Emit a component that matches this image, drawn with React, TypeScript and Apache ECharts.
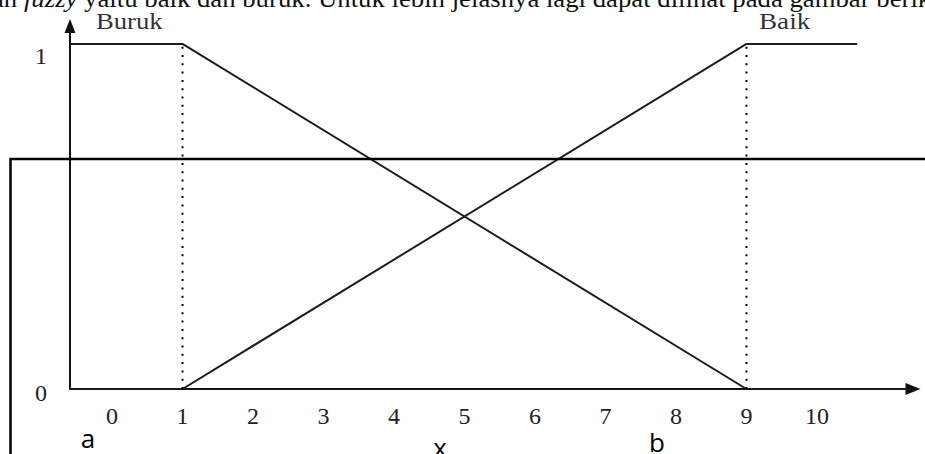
import React, { useEffect, useRef } from "react";
import * as echarts from "echarts";

// x-axis tick labels and y-axis tick labels
const xTickValues = [0, 1, 2, 3, 4, 5, 6, 7, 8, 9, 10];
const yTickValues = [0, 1];
// membership functions
const burukPoints = [[-0.596, 1], [1, 1], [9, 0], [11.3, 0]];
const baikPoints = [[-0.596, 0], [1, 0], [9, 1], [10.57, 1]];
// dotted guides at the bounds
const guideLeft = [[1, 0], [1, 1]];
const guideRight = [[9, 0], [9, 1]];
const setLabels = ["Buruk", "Baik"];
const boundLabels = ["a", "x", "b"];
const captionText =
  "an {i|fuzzy} yaitu baik dan buruk. Untuk lebih jelasnya lagi dapat dilihat pada gambar berikut ini:";

const SERIF = "'Liberation Serif', 'Times New Roman', serif";
const SANS = "'Open Sans', 'Liberation Sans', sans-serif";

export default function App() {
  const ref = useRef<HTMLDivElement>(null);
  useEffect(() => {
    if (!ref.current) return;
    const chart = echarts.init(ref.current, undefined, { renderer: "svg" });
    const lineColor = "#1c1c1c";
    const option: any = {
      animation: false,
      backgroundColor: "#ffffff",
      grid: { left: 70, right: 12, top: 26, bottom: 65 },
      xAxis: {
        type: "value",
        min: -0.596,
        max: 11.362,
        axisLine: {
          show: true,
          onZero: false,
          symbol: ["none", "triangle"],
          symbolSize: [12, 15],
          lineStyle: { color: "#111", width: 2 },
        },
        axisTick: { show: false },
        splitLine: { show: false },
        axisLabel: {
          customValues: xTickValues,
          fontFamily: SERIF,
          fontSize: 24,
          color: "#222",
          margin: 15,
        },
      },
      yAxis: {
        type: "value",
        min: 0,
        max: 1.052,
        axisLine: {
          show: true,
          onZero: false,
          symbol: ["none", "triangle"],
          symbolSize: [11, 14],
          lineStyle: { color: "#111", width: 2 },
        },
        axisTick: { show: false },
        splitLine: { show: false },
        axisLabel: {
          customValues: yTickValues,
          margin: 23,
          formatter: (v: number) => (v === 1 ? "{a|1}" : "{b|0}"),
          rich: {
            a: { fontFamily: SERIF, fontSize: 24, color: "#222", padding: [25, 0, 0, 0] },
            b: { fontFamily: SERIF, fontSize: 24, color: "#222", padding: [7, 0, 0, 0] },
          },
        },
      },
      series: [
        {
          name: setLabels[0],
          type: "line",
          data: burukPoints,
          symbol: "none",
          silent: true,
          lineStyle: { color: lineColor, width: 2 },
        },
        {
          name: setLabels[1],
          type: "line",
          data: baikPoints,
          symbol: "none",
          silent: true,
          lineStyle: { color: lineColor, width: 2 },
        },
        {
          type: "line",
          data: guideLeft,
          symbol: "none",
          silent: true,
          lineStyle: { color: "#000", width: 2, type: [2, 6.3] },
        },
        {
          type: "line",
          data: guideRight,
          symbol: "none",
          silent: true,
          lineStyle: { color: "#000", width: 2, type: [2, 6.3] },
        },
      ],
      graphic: [
        {
          type: "text",
          x: -8,
          y: -1.5,
          scaleX: 1.07,
          style: {
            text: captionText,
            fontFamily: SERIF,
            fontSize: 25,
            fill: "#111",
            align: "left",
            verticalAlign: "middle",
            rich: {
              i: { fontFamily: SERIF, fontSize: 25, fontStyle: "italic", fill: "#111" },
            },
          },
        },
        {
          type: "text",
          x: 96,
          y: 21,
          scaleX: 1.16,
          style: {
            text: setLabels[0],
            fontFamily: SERIF,
            fontSize: 23,
            fill: "#333",
            align: "left",
            verticalAlign: "middle",
          },
        },
        {
          type: "text",
          x: 759,
          y: 21,
          scaleX: 1.18,
          style: {
            text: setLabels[1],
            fontFamily: SERIF,
            fontSize: 23,
            fill: "#333",
            align: "left",
            verticalAlign: "middle",
          },
        },
        {
          type: "text",
          x: 88,
          y: 438,
          style: {
            text: boundLabels[0],
            fontFamily: SANS,
            fontSize: 26,
            fill: "#000",
            align: "center",
            verticalAlign: "middle",
          },
        },
        {
          type: "text",
          x: 440,
          y: 447,
          style: {
            text: boundLabels[1],
            fontFamily: SANS,
            fontSize: 26,
            fill: "#000",
            align: "center",
            verticalAlign: "middle",
          },
        },
        {
          type: "text",
          x: 657,
          y: 442,
          style: {
            text: boundLabels[2],
            fontFamily: SANS,
            fontSize: 26,
            fill: "#000",
            align: "center",
            verticalAlign: "middle",
          },
        },
        {
          type: "rect",
          z: 100,
          shape: { x: 10.5, y: 159, width: 2000, height: 1000 },
          style: { fill: "none", stroke: "#000", lineWidth: 2.5 },
        },
      ],
    };
    chart.setOption(option);
    return () => chart.dispose();
  }, []);
  return (
    <div
      ref={ref}
      style={{ position: "fixed", left: 0, top: 0, width: 925, height: 454 }}
    />
  );
}
